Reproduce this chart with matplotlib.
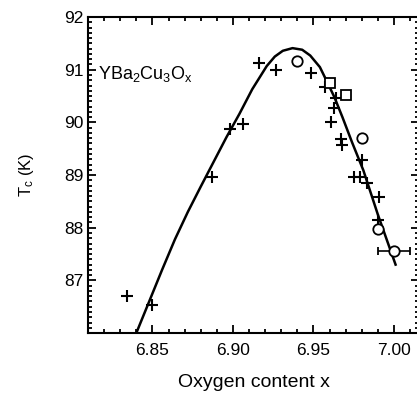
import numpy as np
import matplotlib.pyplot as plt
from matplotlib.ticker import MultipleLocator

plt.rcParams['font.family'] = ['Liberation Sans', 'DejaVu Sans']
plt.rcParams['mathtext.default'] = 'regular'

# crosses
cross_x = [6.834, 6.850, 6.887, 6.898, 6.906, 6.916, 6.927, 6.9485, 6.957, 6.964,
           6.963, 6.961, 6.967, 6.968, 6.980, 6.975, 6.979, 6.983, 6.991, 6.990]
cross_y = [86.70, 86.53, 88.96, 89.87, 89.97, 91.13, 90.99, 90.94, 90.67, 90.46,
           90.27, 90.01, 89.68, 89.57, 89.28, 88.96, 88.96, 88.85, 88.58, 88.15]
# open circles
circ_x = [6.940, 6.980, 6.990]
circ_y = [91.17, 89.70, 87.97]
# open squares
sq_x = [6.960, 6.970]
sq_y = [90.75, 90.52]
# point with error bar
err_x, err_y, err_dx = 7.000, 87.56, 0.010

# guide curve
curve_x = [6.840, 6.848, 6.856, 6.864, 6.872, 6.880, 6.888, 6.896, 6.904, 6.912,
           6.921, 6.926, 6.931, 6.937, 6.943, 6.948, 6.954, 6.958, 6.963, 6.968,
           6.974, 6.981, 6.990, 7.001]
curve_y = [86.00, 86.60, 87.20, 87.78, 88.30, 88.78, 89.25, 89.72, 90.16, 90.63,
           91.07, 91.25, 91.36, 91.41, 91.38, 91.27, 91.05, 90.80, 90.48, 90.10,
           89.62, 89.09, 88.25, 87.30]

fig = plt.figure(figsize=(4.17, 3.97), dpi=100)
ax = fig.add_axes([0.211, 0.161, 0.794, 0.796])

ax.plot(curve_x, curve_y, color='black', lw=1.8)
ax.plot(cross_x, cross_y, ls='none', marker='+', color='black', ms=8, mew=1.5)
ax.plot(circ_x, circ_y, ls='none', marker='o', mfc='white', mec='black', ms=7.5, mew=1.3)
ax.plot(sq_x, sq_y, ls='none', marker='s', mfc='white', mec='black', ms=7.5, mew=1.3)
ax.errorbar([err_x], [err_y], xerr=[err_dx], fmt='o', mfc='white', mec='black',
            ecolor='black', ms=7.5, mew=1.3, elinewidth=1.2, capsize=3, capthick=1.2)

ax.set_xlim(6.81, 7.0156)
ax.set_ylim(86.0, 92.0)
ax.xaxis.set_minor_locator(MultipleLocator(0.01))
ax.yaxis.set_minor_locator(MultipleLocator(0.1))
ax.set_xticks([6.85, 6.90, 6.95, 7.00])
ax.set_xticklabels(['6.85', '6.90', '6.95', '7.00'])
ax.set_yticks([87, 88, 89, 90, 91, 92])
ax.tick_params(which='both', direction='in', top=True, right=True, width=1.3)
ax.tick_params(which='major', length=6, labelsize=12.5)
ax.tick_params(axis='x', which='major', pad=7)
ax.tick_params(which='minor', length=3)
for s in ax.spines.values():
    s.set_linewidth(1.5)

ax.text(0.03, 0.82, 'YBa$_2$Cu$_3$O$_x$', transform=ax.transAxes, fontsize=13,
        ha='left', va='center')
ax.set_xlabel('Oxygen content x', fontsize=14, labelpad=12)
ax.set_ylabel('T$_c$ (K)', fontsize=12, labelpad=20)

fig.savefig('out.png', dpi=100)
